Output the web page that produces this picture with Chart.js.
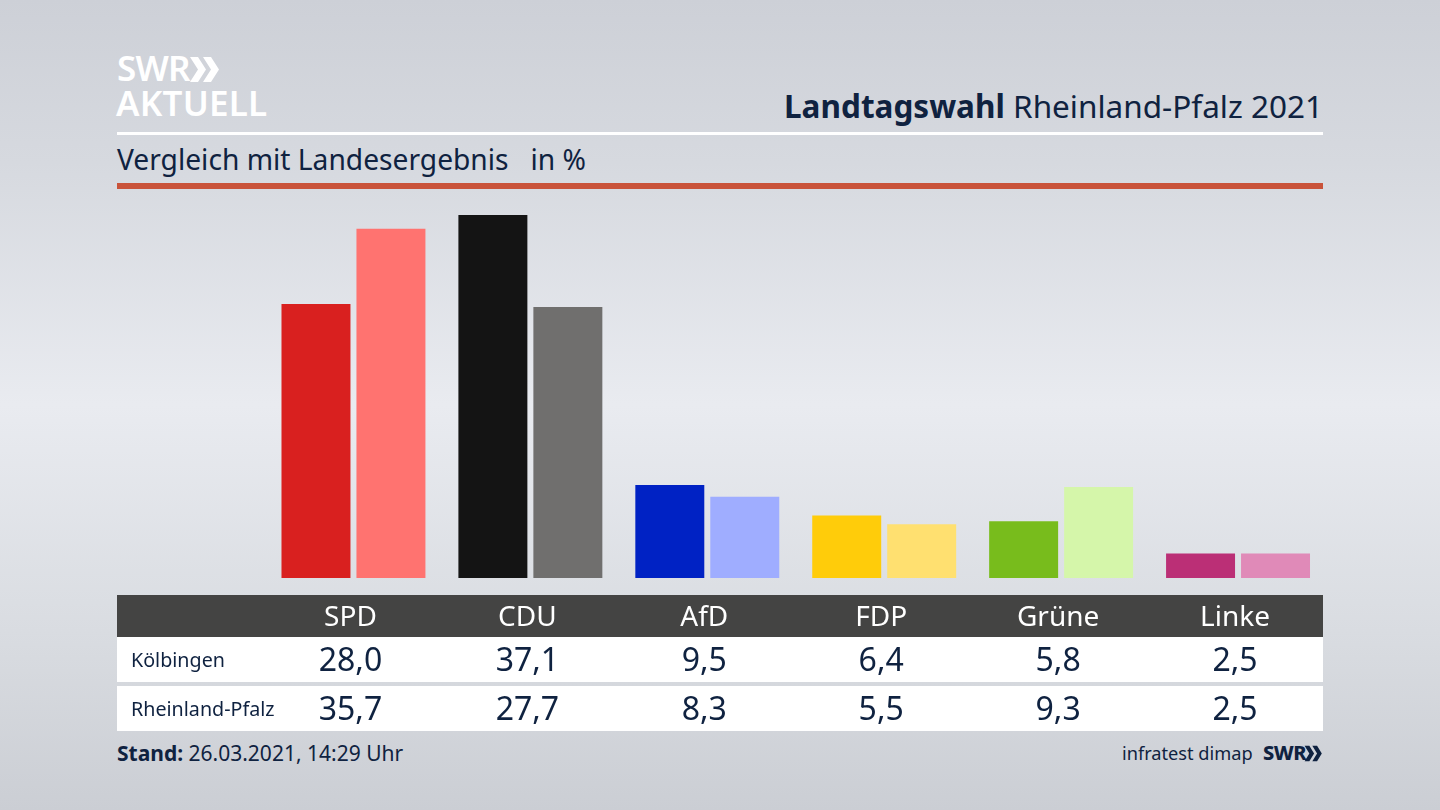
<!DOCTYPE html>
<html lang="de"><head><meta charset="utf-8">
<script src="https://cdn.jsdelivr.net/npm/chart.js@4"></script>
<style>
html,body{margin:0;padding:0;width:1440px;height:810px;overflow:hidden}
body{position:relative;font-family:"Noto Sans",sans-serif;color:#0f2240;
background:linear-gradient(180deg,#cdd0d7 0%,#d6d9df 20%,#e9ebf0 50%,#d9dce1 78%,#cbced4 100%)}
.abs{position:absolute;white-space:nowrap}
canvas{position:absolute;left:0;top:0;z-index:2}
.rule{position:absolute;left:117px;width:1206px}
.row{position:absolute;left:117px;width:1206px;background:#fff;z-index:1}
.val{position:absolute;transform:translateX(-50%);font-size:32px;line-height:43px;z-index:3;white-space:nowrap}
.lab{position:absolute;left:131px;font-size:19.7px;line-height:45px;z-index:3;white-space:nowrap}
</style></head><body>
<div class="abs" style="left:117px;top:48px;font-size:35px;line-height:40px;font-weight:600;color:#fff;letter-spacing:-.8px">SWR</div>
<svg class="abs" style="left:189px;top:56px" width="32" height="27" viewBox="0 0 32 26" preserveAspectRatio="none"><path d="M1 1 L9 1 L17 13 L9 25 L1 25 L9 13 Z M14 1 L22 1 L30 13 L22 25 L14 25 L22 13 Z" fill="#fff"/></svg>
<div class="abs" style="left:116px;top:82px;font-size:35px;line-height:42px;font-weight:600;color:#fff;letter-spacing:.2px">AKTUELL</div>
<div class="abs" style="right:117px;top:84px;font-size:31.5px;line-height:44px"><b>Landtagswahl</b> Rheinland-Pfalz 2021</div>
<div class="rule" style="top:132px;height:3px;background:#fff"></div>
<div class="abs" style="left:117px;top:139px;font-size:28.2px;line-height:40px">Vergleich mit Landesergebnis&nbsp;&nbsp; in %</div>
<div class="rule" style="top:183px;height:6px;background:#c9533a"></div>
<div class="row" style="top:595px;height:42px;background:#444443"></div>
<div class="row" style="top:637px;height:45px"></div>
<div class="row" style="top:686px;height:45px"></div>
<div id="table"></div>
<div class="abs" style="left:117px;top:737px;font-size:21px;line-height:32px"><b>Stand:</b> 26.03.2021, 14:29 Uhr</div>
<div class="abs" style="left:1122px;top:738px;font-size:18.2px;line-height:30px">infratest dimap</div>
<div class="abs" style="left:1263px;top:738px;font-size:20px;line-height:30px;font-weight:800;letter-spacing:-.5px">SWR</div>
<svg class="abs" style="left:1304px;top:745px" width="19" height="17" viewBox="0 0 32 26" preserveAspectRatio="none"><path d="M1 1 L9 1 L17 13 L9 25 L1 25 L9 13 Z M14 1 L22 1 L30 13 L22 25 L14 25 L22 13 Z" fill="#0f2240"/></svg>
<canvas id="c" width="1440" height="810"></canvas>
<script>
const categories = ["SPD","CDU","AfD","FDP","Grüne","Linke"];
const koelbingen = [28.0,37.1,9.5,6.4,5.8,2.5];
const rheinlandPfalz = [35.7,27.7,8.3,5.5,9.3,2.5];
const seriesNames = ["Kölbingen","Rheinland-Pfalz"];
const coloursA = ["#d9201f","#141414","#0022c4","#ffcc0a","#78bc1c","#bb2f76"];
const coloursB = ["#ff7370","#706f6e","#9fadff","#ffe070","#d5f6aa","#e08ab8"];
const fmt = v => v.toFixed(1).replace(".",",");
const chart = new Chart(document.getElementById("c"),{
  type:"bar",
  data:{labels:categories,datasets:[
    {label:seriesNames[0],data:koelbingen,backgroundColor:coloursA,borderWidth:0,categoryPercentage:0.8475,barPercentage:0.92},
    {label:seriesNames[1],data:rheinlandPfalz,backgroundColor:coloursB,borderWidth:0,categoryPercentage:0.8475,barPercentage:0.92}
  ]},
  options:{responsive:false,animation:false,
    layout:{padding:{left:265,right:113.5,top:186.7,bottom:160.4}},
    plugins:{legend:{display:false},tooltip:{enabled:false},title:{display:false}},
    scales:{
      x:{grid:{display:false},border:{display:false},
         ticks:{color:"#fff",padding:15,labelOffset:-3,autoSkip:false,maxRotation:0,font:{family:"'Noto Sans'",size:28}}},
      y:{display:false,min:0,max:40}
    }}
});
const t=document.getElementById("table");
[[koelbingen,637],[rheinlandPfalz,686]].forEach(([arr,top],r)=>{
  const l=document.createElement("div");l.className="lab";l.style.top=top+"px";l.textContent=seriesNames[r];t.appendChild(l);
  arr.forEach((v,i)=>{
    const d=document.createElement("div");d.className="val";d.style.top=top+"px";
    d.style.left=(chart.scales.x.getPixelForValue(i)-3)+"px";d.textContent=fmt(v);t.appendChild(d);
  });
});
</script></body></html>
